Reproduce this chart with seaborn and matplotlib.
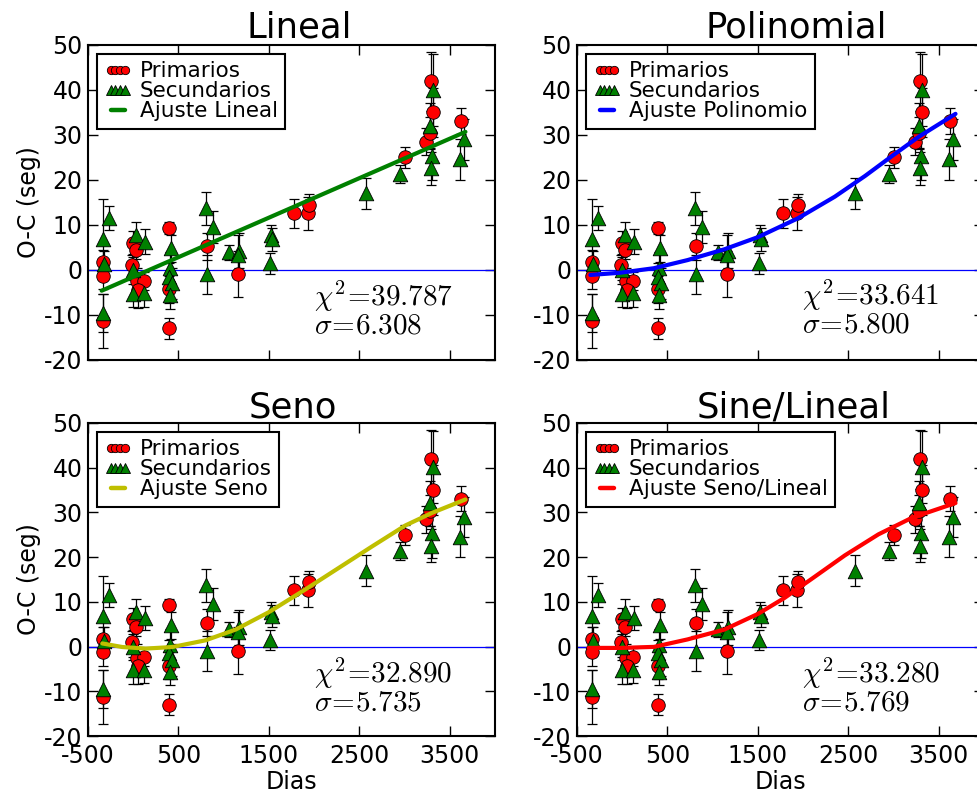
import matplotlib
matplotlib.use("Agg")
import matplotlib.pyplot as plt
import seaborn as sns
from matplotlib.lines import Line2D

# ---------------- data ----------------
prim_dias = [-330, -330, -330, 0, 27, -10, 40, 119, 50, 395, 395, 395,
             811, 1157, 1776, 1931, 1942, 3010, 3238, 3279, 3312, 3297, 3629]
prim_oc = [1.8, -1.3, -11.3, 6.1, 4.4, 1.1, -2.5, -2.4, -4.4, 9.4, -4.3, -13.0,
           5.3, -0.9, 12.6, 12.6, 14.4, 25.0, 28.5, 30.4, 35.0, 41.9, 33.1]
prim_err = [2.6, 3.0, 6.0, 2.5, 2.0, 2.3, 3.0, 2.0, 4.0, 1.3, 3.0, 2.3,
            3.0, 5.2, 3.2, 3.7, 2.5, 2.3, 3.0, 3.5, 5.5, 6.6, 2.8]

sec_dias = [-268, -331, -320, -331, 27, 126, 0, 0, 119, 420, 405, 395, 430, 405,
            800, 885, 811, 1058, 1169, 1160, 1519, 1530, 1511,
            2575, 2955, 3279, 3316, 3305, 3294, 3662, 3618]
sec_oc = [11.5, 6.8, 1.3, -9.5, 7.8, 6.3, -0.1, -5.3, -5.2, 4.8, 0.4, -1.5, -3.0, -5.6,
          13.7, 9.6, -1.0, 3.9, 4.3, 3.3, 7.8, 6.8, 1.5,
          17.0, 21.3, 32.0, 40.1, 25.3, 22.6, 29.0, 24.6]
sec_err = [2.7, 9.0, 3.0, 4.2, 2.8, 2.7, 3.0, 3.0, 3.0, 3.0, 3.5, 3.0, 3.5, 3.0,
           3.7, 3.6, 4.4, 1.7, 3.9, 4.5, 2.2, 2.5, 2.3,
           3.5, 2.0, 5.0, 8.0, 5.4, 3.7, 4.5, 4.6]

lin_dias = [-349, 3673]
lin_oc = [-4.6, 30.7]
pol_dias = [-352, -19, 351, 722, 1129, 1500, 1944, 2351, 2685, 2981, 3278, 3685]
pol_oc = [-1.1, -0.6, 0.4, 2.2, 4.6, 7.3, 11.5, 16.3, 20.9, 25.3, 29.6, 34.7]
sen_dias = [-342, -121, 138, 432, 800, 1132, 1500, 1905, 2273, 2641, 3010, 3304, 3673]
sen_oc = [0.7, -0.1, -0.45, -0.1, 1.4, 3.8, 7.7, 12.8, 17.6, 22.4, 27.1, 29.9, 32.9]
snl_dias = [-371, -19, 351, 722, 1129, 1500, 1796, 2092, 2462, 2833, 3203, 3685]
snl_oc = [-0.3, -0.3, -0.07, 1.6, 3.8, 7.3, 10.9, 15.1, 20.4, 25.1, 28.8, 32.1]

titles = ["Lineal", "Polinomial", "Seno", "Sine/Lineal"]
fit_labels = ["Ajuste Lineal", "Ajuste Polinomio", "Ajuste Seno", "Ajuste Seno/Lineal"]
chi2_txt = ["39.787", "33.641", "32.890", "33.280"]
sigma_txt = ["6.308", "5.800", "5.735", "5.769"]
xticks = [-500, 500, 1500, 2500, 3500]
yticks = [-20, -10, 0, 10, 20, 30, 40, 50]

# ---------------- style ----------------
sns.set_style("ticks")
plt.rcParams["font.family"] = ["DejaVu Sans"]
plt.rcParams["mathtext.fontset"] = "cm"
plt.rcParams["text.color"] = "black"
plt.rcParams["axes.labelcolor"] = "black"
plt.rcParams["xtick.color"] = "black"
plt.rcParams["ytick.color"] = "black"
plt.rcParams["axes.edgecolor"] = "black"

fits = [(lin_dias, lin_oc, "#008000"),
        (pol_dias, pol_oc, "#0000ff"),
        (sen_dias, sen_oc, "#bfbf00"),
        (snl_dias, snl_oc, "#ff0000")]

W, H = 977.0, 796.0
positions = [
    (88 / W, (H - 360) / H, 407 / W, 315 / H),
    (577 / W, (H - 360) / H, 407 / W, 315 / H),
    (88 / W, (H - 736) / H, 407 / W, 313 / H),
    (577 / W, (H - 736) / H, 407 / W, 313 / H),
]
title_x = [0.518, 0.538, 0.502, 0.532]
stat_pos = [(0.556, 0.170, 0.084), (0.553, 0.175, 0.087),
            (0.556, 0.168, 0.083), (0.553, 0.170, 0.083)]

fig = plt.figure(figsize=(W / 100, H / 100), dpi=100)

for i in range(4):
    ax = fig.add_axes(positions[i])
    fx, fy, fc = fits[i]
    ax.axhline(0, color="#0000ff", lw=0.9, zorder=1)
    ax.errorbar(prim_dias, prim_oc, yerr=prim_err, fmt="none", ecolor="k",
                elinewidth=0.9, capsize=3.5, capthick=0.9, zorder=2)
    ax.errorbar(sec_dias, sec_oc, yerr=sec_err, fmt="none", ecolor="k",
                elinewidth=0.9, capsize=3.5, capthick=0.9, zorder=2)
    sns.scatterplot(x=prim_dias, y=prim_oc, marker="o", s=95, color="#ff0000",
                    edgecolor="k", linewidth=0.6, ax=ax, zorder=3, legend=False)
    sns.scatterplot(x=sec_dias, y=sec_oc, marker="^", s=110, color="#008000",
                    edgecolor="k", linewidth=0.6, ax=ax, zorder=3, legend=False)
    sns.lineplot(x=fx, y=fy, color=fc, lw=3, ax=ax, zorder=4,
                 estimator=None, sort=False)

    ax.set_xlim(-500, 4000)
    ax.set_ylim(-20, 50)
    ax.set_xticks(xticks)
    ax.set_yticks(yticks)
    ax.tick_params(direction="in", length=7, width=1, top=True, right=True,
                   labelsize=17, pad=4, colors="black")
    ax.tick_params(axis="x", pad=6)
    for sp in ax.spines.values():
        sp.set_linewidth(1.5)
        sp.set_color("k")
        sp.set_visible(True)
    if i < 2:
        ax.set_xticklabels([])
        ax.set_xlabel("")
    else:
        ax.set_xticklabels([str(t) for t in xticks])
        ax.set_xlabel("Dias", fontsize=17, labelpad=1, color="black")
    ax.set_yticklabels([str(t) for t in yticks])
    if i % 2 == 0:
        ax.set_ylabel("O-C (seg)", fontsize=17, labelpad=2, color="black")
    else:
        ax.set_ylabel("")

    ax.set_title(titles[i], fontsize=25.5, x=title_x[i], pad=4, color="black")

    handles = [
        Line2D([], [], marker="o", ls="none", mfc="#ff0000", mec="k", mew=0.6, ms=6),
        Line2D([], [], marker="^", ls="none", mfc="#008000", mec="k", mew=0.6, ms=6.5),
        Line2D([], [], color=fc, lw=3.2),
    ]
    leg = ax.legend(handles, ["Primarios", "Secundarios", fit_labels[i]],
                    loc="upper left", numpoints=4, fontsize=15.5, handlelength=1.25,
                    handletextpad=0.4, labelspacing=0.0, borderpad=0.35,
                    borderaxespad=0.4, fancybox=False, framealpha=1)
    leg.get_frame().set_edgecolor("k")
    leg.get_frame().set_linewidth(1.5)
    leg.set_zorder(6)
    for t in leg.get_texts():
        t.set_color("black")

    sx, sy1, sy2 = stat_pos[i]
    ax.text(sx, sy1, r"$\chi^2\!=\!%s$" % chi2_txt[i], transform=ax.transAxes,
            fontsize=21, va="baseline", ha="left")
    ax.text(sx, sy2, r"$\sigma\!=\!%s$" % sigma_txt[i], transform=ax.transAxes,
            fontsize=21, va="baseline", ha="left")

fig.savefig("out.png", dpi=100)
